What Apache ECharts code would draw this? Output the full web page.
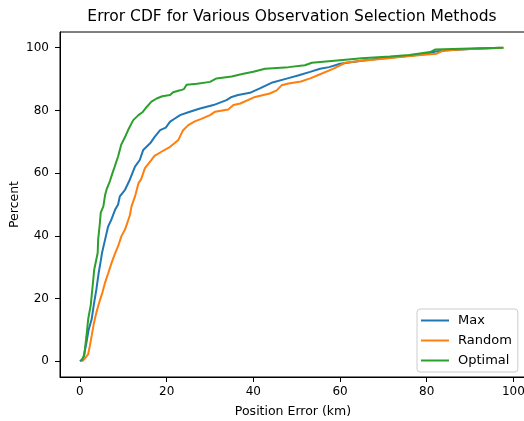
<!DOCTYPE html>
<html><head><meta charset="utf-8">
<script src="https://cdn.jsdelivr.net/npm/echarts@6/dist/echarts.min.js"></script>
<style>html,body{margin:0;padding:0;background:#fff}#c{width:524px;height:421px}</style>
</head><body><div id="c"></div>
<script>
const titleText = "Error CDF for Various Observation Selection Methods";
const xLabel = "Position Error (km)";
const yLabel = "Percent";
const xTicks = [0, 20, 40, 60, 80, 100];
const yTicks = [0, 20, 40, 60, 80, 100];
const seriesNames = ["Max", "Random", "Optimal"];

const maxData = [[0,0],[0.8,1],[1.5,6],[2.0,10],[2.7,13.4],[3.2,18],[3.8,23],[4.3,28],[4.8,32],[5.1,34.6],[5.8,38.8],[6.5,43],[7.2,45],[8.1,48.3],[8.8,50],[9.2,52.6],[10.4,54.7],[11.5,57.9],[12.7,62.1],[13.8,64.2],[14.6,67.4],[16.2,69.5],[17.2,71.5],[18.5,73.7],[19.8,74.5],[20.8,76.4],[22,77.5],[23.1,78.5],[25,79.4],[27.7,80.6],[30.8,81.7],[33.8,83.3],[35,84.3],[36.5,84.9],[39.2,85.6],[41.5,87],[44.2,88.8],[48.1,90.3],[50.5,91.2],[53.1,92.3],[55.4,93.3],[57.5,93.8],[60,94.9],[65,95.8],[70,96.6],[75,97.3],[80,98],[82,98.8],[85,99.2],[90,99.6],[97,100]];

const randomData = [[0.5,0],[1.2,1],[1.9,2.3],[2.3,5],[2.7,8.1],[3.2,12],[3.8,15.6],[4.5,19],[5.2,22],[5.8,25.1],[6.5,28],[7.3,31.4],[8.0,34],[8.8,36.7],[9.6,40],[10.4,42],[11.5,46.5],[11.9,49.4],[12.8,53],[13.5,56.8],[14.1,58],[15,61.6],[16.5,64.2],[17.2,65.5],[18.9,66.9],[20.8,68.4],[21.8,69.5],[22.7,70.6],[23.8,73.7],[25,75.3],[26.5,76.5],[28,77.3],[30,78.5],[31.2,79.6],[34.2,80.3],[35.4,81.7],[37,82.2],[40.4,84.3],[43.8,85.4],[45.4,86.4],[46.5,88],[48.1,88.6],[51,89.2],[53.1,90.2],[55,91.3],[58.5,93.3],[61.2,95.2],[65,95.8],[70,96.5],[75,97.2],[80,97.8],[82.3,98.1],[83.8,99.1],[90,99.6],[97.7,100]];

const optimalData = [[0.3,0],[1.0,2],[1.5,8],[1.9,13.4],[2.5,18],[3.0,25],[3.3,29.3],[4.1,34.6],[4.2,38.8],[4.6,44.1],[4.8,47.4],[5.4,49.4],[5.8,53],[6.2,55],[6.9,57.4],[7.5,60],[8.0,62],[8.8,65.3],[9.5,69],[10.4,71.5],[11.2,74],[12.3,76.9],[13.5,78.5],[14.5,79.5],[15.4,81.1],[16.5,82.8],[17.7,83.8],[19,84.5],[20.8,84.9],[21.5,85.8],[23.1,86.4],[24,86.8],[24.6,88.2],[27,88.5],[30,89.1],[31.5,90.2],[35,90.8],[37.7,91.7],[40,92.3],[42.7,93.3],[48.1,93.8],[51.9,94.4],[53.5,95.2],[60,96],[65,96.6],[71.5,97.2],[76,97.7],[80.8,98.6],[81.9,99.4],[90,99.7],[97.7,100]];

const colors = ["#1f77b4", "#ff7f0e", "#2ca02c"];
const font = "DejaVu Sans";

const chart = echarts.init(document.getElementById('c'), null, {renderer: 'canvas'});
const mkSeries = (name, data, color) => ({
  name, type: 'line', data, showSymbol: false, symbol: 'none',
  lineStyle: {color, width: 2}, itemStyle: {color}, animation: false
});
chart.setOption({
  animation: false,
  backgroundColor: '#fff',
  graphic: [{type: 'text', x: 292, y: 17, style: {text: titleText, fill: '#000',
    font: '15.5px "DejaVu Sans"', align: 'center', verticalAlign: 'middle'}}],
  grid: {left: 60, top: 32, width: 466, height: 345, show: true, borderColor: '#000', borderWidth: 1,
    backgroundColor: 'transparent', containLabel: false, outerBoundsMode: 'none'},
  legend: {
    orient: 'vertical', left: 417, top: 309, itemWidth: 28, itemHeight: 2, itemGap: 7,
    icon: 'rect', padding: [5, 6, 5, 4],
    borderColor: '#ccc', borderWidth: 1, borderRadius: 3, backgroundColor: 'rgba(255,255,255,0.8)',
    textStyle: {fontFamily: font, fontSize: 13, color: '#000', padding: [0, 0, 0, 4]},
    data: seriesNames
  },
  xAxis: {
    type: 'value', min: -4.6, max: 102.9,
    name: xLabel, nameLocation: 'middle', nameGap: 28,
    nameTextStyle: {fontFamily: font, fontSize: 12.5, color: '#000'},
    axisLine: {show: true, onZero: false, lineStyle: {color: '#000', width: 1}},
    axisTick: {show: true, length: 5, customValues: xTicks, lineStyle: {color: '#000'}},
    axisLabel: {customValues: xTicks, margin: 9, fontFamily: font, fontSize: 12, color: '#000'},
    splitLine: {show: false}
  },
  yAxis: {
    type: 'value', min: -5, max: 105,
    name: yLabel, nameLocation: 'middle', nameGap: 39, nameRotate: 90, nameMoveOverlap: false,
    nameTextStyle: {fontFamily: font, fontSize: 12.5, color: '#000'},
    axisLine: {show: true, onZero: false, lineStyle: {color: '#000', width: 1}},
    axisTick: {show: true, length: 5, customValues: yTicks, lineStyle: {color: '#000'}},
    axisLabel: {customValues: yTicks, margin: 11, fontFamily: font, fontSize: 12, color: '#000'},
    splitLine: {show: false}
  },
  series: [
    mkSeries(seriesNames[0], maxData, colors[0]),
    mkSeries(seriesNames[1], randomData, colors[1]),
    mkSeries(seriesNames[2], optimalData, colors[2])
  ]
});
</script></body></html>
